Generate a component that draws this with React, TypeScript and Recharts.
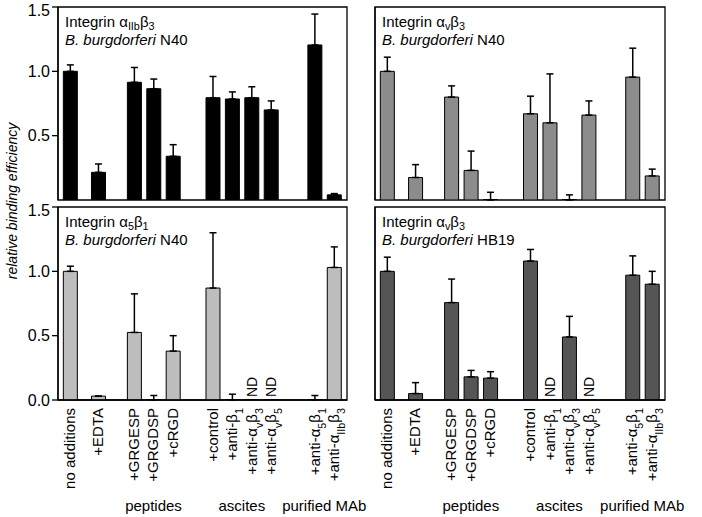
import React from "react";
import { BarChart, Bar, XAxis, YAxis, ErrorBar, LabelList, ReferenceArea } from "recharts";

// bar labels, "_{...}" marks a subscript
const categories = [
  "no additions",
  "+EDTA",
  "+GRGESP",
  "+GRGDSP",
  "+cRGD",
  "+control",
  "+anti-β_{1}",
  "+anti-α_{v}β_{3}",
  "+anti-α_{v}β_{5}",
  "+anti-α_{5}β_{1}",
  "+anti-α_{IIb}β_{3}",
];
const groupNames = ["", "", "peptides", "ascites", "purified MAb"];
const groupSizes = [1, 1, 3, 4, 2];
// space before each new group, in bar slots
const groupGaps = [1.45, 1.85, 2.05, 2.25];

// null = ND (not determined)
const aIIbN40 = [1.0, 0.215, 0.915, 0.865, 0.34, 0.795, 0.785, 0.795, 0.7, 1.205, 0.04];
const aIIbN40Err = [0.05, 0.065, 0.115, 0.075, 0.09, 0.165, 0.055, 0.085, 0.07, 0.24, 0.01];

const avN40 = [1.0, 0.175, 0.8, 0.23, 0, 0.67, 0.6, 0, 0.66, 0.955, 0.187];
const avN40Err = [0.11, 0.1, 0.087, 0.15, 0.06, 0.137, 0.38, 0.04, 0.11, 0.225, 0.053];

const a5N40 = [1.0, 0.03, 0.525, 0, 0.38, 0.87, 0, null, null, 0, 1.03];
const a5N40Err = [0.04, 0, 0.3, 0.035, 0.12, 0.43, 0.045, null, null, 0.035, 0.16];

const avHB19 = [1.0, 0.05, 0.757, 0.18, 0.17, 1.08, null, 0.49, null, 0.97, 0.9];
const avHB19Err = [0.11, 0.085, 0.183, 0.05, 0.05, 0.09, null, 0.16, null, 0.15, 0.1];

const yMax = 1.5;
const font = "'Liberation Sans', Arial, Helvetica, sans-serif";

// slot position of every bar along the x axis
const pos: number[] = [];
const groupCenters: number[] = [];
let cur = 0;
groupSizes.forEach((n, g) => {
  if (g > 0) cur += groupGaps[g - 1];
  const start = cur;
  for (let i = 0; i < n; i++) {
    pos.push(cur);
    if (i < n - 1) cur += 1;
  }
  groupCenters.push((start + cur) / 2);
});
const namedCenters = groupCenters.filter((_, i) => groupNames[i]);
const xDomain: [number, number] = [-0.62, 14.27];

function rows(values: (number | null)[], errs: (number | null)[]) {
  return categories.map((name, i) => ({
    x: pos[i],
    name,
    v: values[i] ?? 0,
    err: values[i] == null ? undefined : [0, errs[i] ?? 0],
    nd: values[i] == null ? "ND" : "",
  }));
}

function SvgRich({ text }: { text: string }) {
  const parts = text.split(/_\{([^}]*)\}/);
  return (
    <>
      {parts.map((s, i) =>
        i % 2 ? (
          <tspan key={i} baselineShift="sub" fontSize="72%">{s}</tspan>
        ) : (
          <tspan key={i}>{s}</tspan>
        )
      )}
    </>
  );
}

function HtmlRich({ text }: { text: string }) {
  const parts = text.split(/_\{([^}]*)\}/);
  return (
    <>
      {parts.map((s, i) =>
        i % 2 ? (
          <sub key={i} style={{ fontSize: "72%", lineHeight: 0, verticalAlign: "-0.3em" }}>{s}</sub>
        ) : (
          <span key={i}>{s}</span>
        )
      )}
    </>
  );
}

const CatTick = ({ x, y, payload }: any) => {
  const i = pos.findIndex((p) => Math.abs(p - payload.value) < 1e-6);
  return (
    <text transform={`translate(${x + 5},${y + 8}) rotate(-90)`} textAnchor="end" fontSize={15} fill="#000" fontFamily={font}>
      <SvgRich text={categories[i] ?? ""} />
    </text>
  );
};

const GroupTick = ({ x, y, payload }: any) => {
  const i = groupCenters.findIndex((c) => Math.abs(c - payload.value) < 1e-6);
  return (
    <text x={x} y={y + 19} textAnchor="middle" fontSize={15} fill="#000" fontFamily={font}>
      {groupNames[i]}
    </text>
  );
};

// the top label sits a little below its tick, as in the print
const ValueTick = ({ x, y, payload }: any) => (
  <text x={x} y={y} dy={payload.value >= yMax ? 9 : 5.5} textAnchor="end" fontSize={16} fill="#000" fontFamily={font}>
    {Number(payload.value).toFixed(1)}
  </text>
);

const NdLabel = (p: any) => {
  if (p.value !== "ND") return null;
  const cx = p.x + p.width / 2;
  return (
    <text transform={`translate(${cx + 5},${p.y + p.height - 3}) rotate(-90)`} fontSize={14} fill="#000" fontFamily={font}>
      ND
    </text>
  );
};

interface PanelProps {
  values: (number | null)[];
  errs: (number | null)[];
  fill: string;
  left: number;
  top: number;
  yTicks?: number[];
  bottom?: boolean;
}

function Panel({ values, errs, fill, left, top, yTicks, bottom }: PanelProps) {
  const data = rows(values, errs);
  const isLeft = !!yTicks;
  const width = isLeft ? 370 : 337;
  const height = bottom ? 317 : 202;
  const axisStroke = { stroke: "#000", strokeWidth: 1.3 };
  return (
    <div style={{ position: "absolute", left, top }}>
      <BarChart
        width={width}
        height={height}
        data={data}
        margin={{ top: 7, right: isLeft ? 23 : 37, left: 0, bottom: bottom ? 0 : 2 }}
      >
        <XAxis
          dataKey="x"
          type="number"
          domain={xDomain}
          allowDataOverflow
          ticks={pos}
          interval={0}
          axisLine={axisStroke}
          tickLine={false}
          tickSize={0}
          tickMargin={0}
          height={bottom ? 92 : 0}
          tick={bottom ? <CatTick /> : false}
        />
        {bottom && (
          <XAxis
            xAxisId="groups"
            dataKey="x"
            type="number"
            domain={xDomain}
            allowDataOverflow
            ticks={namedCenters}
            interval={0}
            axisLine={false}
            tickLine={false}
            tickSize={0}
            tickMargin={0}
            height={25}
            tick={<GroupTick />}
          />
        )}
        {bottom && (
          <Bar xAxisId="groups" dataKey="none" fill="none" legendType="none" isAnimationActive={false} />
        )}
        <YAxis
          type="number"
          domain={[0, yMax]}
          allowDataOverflow
          ticks={yTicks ?? []}
          interval={0}
          width={isLeft ? 58 : 10}
          axisLine={axisStroke}
          tickLine={isLeft ? axisStroke : false}
          tickSize={6}
          tickMargin={2}
          tick={isLeft ? <ValueTick /> : false}
        />
        <ReferenceArea
          x1={xDomain[0]}
          x2={xDomain[1]}
          y1={0}
          y2={yMax}
          fill="none"
          stroke="#000"
          strokeWidth={1.3}
          fillOpacity={0}
          ifOverflow="visible"
        />
        <Bar dataKey="v" fill={fill} stroke="#000" strokeWidth={1} barSize={14} minPointSize={0.5} isAnimationActive={false}>
          <ErrorBar dataKey="err" direction="y" width={3.5} stroke="#000" strokeWidth={1.5} isAnimationActive={false} />
          <LabelList dataKey="nd" content={<NdLabel />} />
        </Bar>
      </BarChart>
    </div>
  );
}

function Title({ left, top, integrin, strain }: { left: number; top: number; integrin: string; strain: string }) {
  return (
    <div style={{ position: "absolute", left, top, fontSize: 15, lineHeight: "18px", fontFamily: font, color: "#000", whiteSpace: "nowrap" }}>
      <div>
        Integrin <HtmlRich text={integrin} />
      </div>
      <div>
        <i>B. burgdorferi</i> {strain}
      </div>
    </div>
  );
}

export default function App() {
  return (
    <div style={{ position: "absolute", left: 0, top: 0, width: 702, height: 517, background: "#fff", fontFamily: font, overflow: "hidden" }}>
      <Panel values={aIIbN40} errs={aIIbN40Err} fill="#000" left={0} top={0} yTicks={[0.5, 1, 1.5]} />
      <Panel values={avN40} errs={avN40Err} fill="#8c8c8c" left={365} top={0} />
      <Panel values={a5N40} errs={a5N40Err} fill="#bdbdbd" left={0} top={200} yTicks={[0, 0.5, 1, 1.5]} bottom />
      <Panel values={avHB19} errs={avHB19Err} fill="#555" left={365} top={200} bottom />

      <Title left={65} top={13} integrin="α_{IIb}β_{3}" strain="N40" />
      <Title left={382} top={13} integrin="α_{v}β_{3}" strain="N40" />
      <Title left={65} top={213} integrin="α_{5}β_{1}" strain="N40" />
      <Title left={382} top={213} integrin="α_{v}β_{3}" strain="HB19" />

      <svg width={30} height={517} style={{ position: "absolute", left: 0, top: 0 }}>
        <text transform="translate(17,201) rotate(-90)" textAnchor="middle" fontSize={14} fontStyle="italic" fill="#000" fontFamily={font}>
          relative binding efficiency
        </text>
      </svg>
    </div>
  );
}
